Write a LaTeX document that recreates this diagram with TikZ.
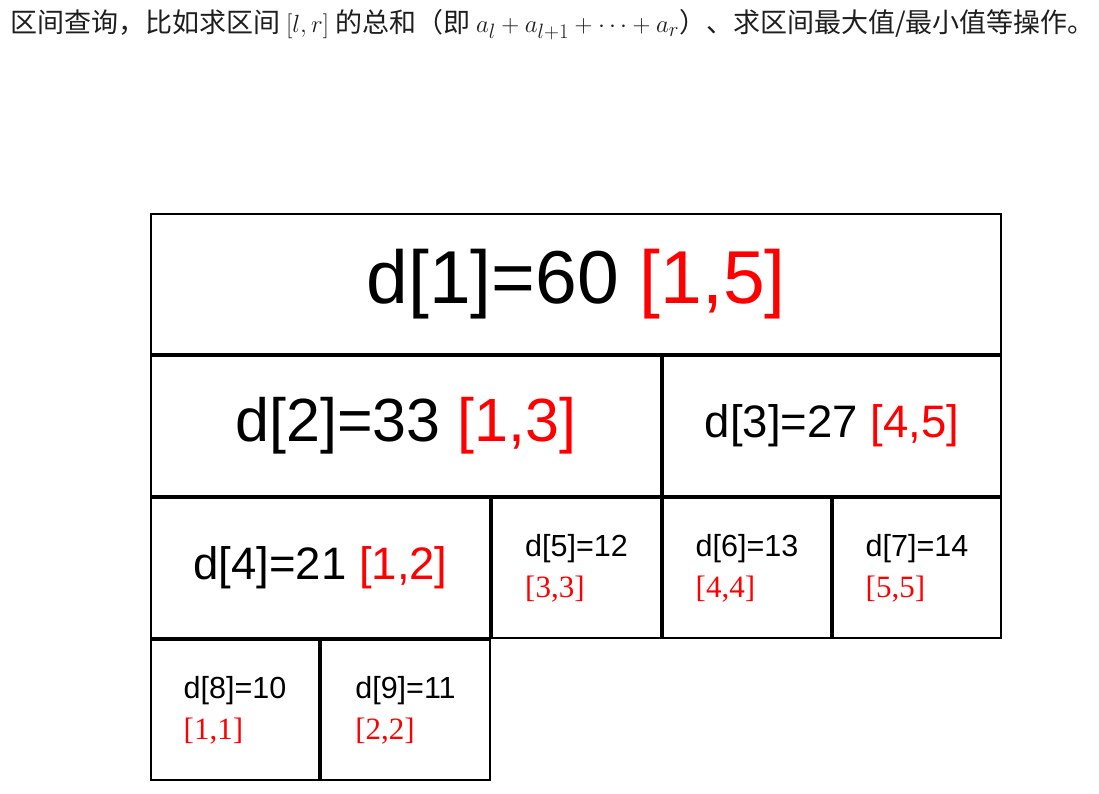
\documentclass[tikz,border=0pt]{standalone}
\usepackage{fontspec}
\setmainfont{Liberation Sans}
\newfontfamily\cjk{Noto Sans CJK SC}
\newfontfamily\redserif{Liberation Serif}
\definecolor{redlab}{RGB}{255,0,0}
\definecolor{txt}{RGB}{30,30,30}
\newcommand{\bigmath}[1]{{\fontsize{29}{30}\selectfont$#1$}}
\begin{document}
\begin{tikzpicture}[x=1pt,y=-1pt,
  box/.style={draw, line width=1.7pt, inner sep=0pt, outer sep=0pt, anchor=north west, align=center},
  smallbox/.style={box, minimum width=168pt, minimum height=140pt, align=left},
  big/.style={font=\fontsize{#1}{#1}\selectfont},
  small/.style={font=\fontsize{30.5}{42}\selectfont}]
\useasboundingbox (0,0) rectangle (1099,794);
\fill[white] (0,0) rectangle (1099,794);
\node[anchor=west, inner sep=0pt, text=txt] (title) at (10,24.5)
  {\fontsize{27}{30}\selectfont\cjk 区间查询，比如求区间 \bigmath{[l,r]} 的总和（即 \bigmath{a_l+a_{l+1}+\cdots+a_r}）、求区间最大值/最小值等操作。};
% row 1
\node[box, minimum width=850pt, minimum height=140pt, big=75] (d1) at (151,214)
  {d[1]=60 \textcolor{redlab}{[1,5]}};
% row 2
\node[box, minimum width=510pt, minimum height=140pt, big=61] (d2) at (151,356)
  {d[2]=33 \textcolor{redlab}{[1,3]}};
\node[box, minimum width=338pt, minimum height=140pt, big=45.5] (d3) at (663,356)
  {d[3]=27 \textcolor{redlab}{[4,5]}};
% row 3
\node[box, minimum width=339pt, minimum height=140pt, big=45.5] (d4) at (151,498)
  {d[4]=21 \textcolor{redlab}{[1,2]}};
\node[smallbox, minimum width=169pt, small] (d5) at (492,498)
  {d[5]=12\\[-1pt]{\redserif\fontsize{31}{42}\selectfont\textcolor{redlab}{[3,3]}}};
\node[smallbox, small] (d6) at (663,498)
  {d[6]=13\\[-1pt]{\redserif\fontsize{31}{42}\selectfont\textcolor{redlab}{[4,4]}}};
\node[smallbox, small] (d7) at (833,498)
  {d[7]=14\\[-1pt]{\redserif\fontsize{31}{42}\selectfont\textcolor{redlab}{[5,5]}}};
% row 4
\node[smallbox, small] (d8) at (151,640)
  {d[8]=10\\[-1pt]{\redserif\fontsize{31}{42}\selectfont\textcolor{redlab}{[1,1]}}};
\node[smallbox, minimum width=169pt, small] (d9) at (321,640)
  {d[9]=11\\[-1pt]{\redserif\fontsize{31}{42}\selectfont\textcolor{redlab}{[2,2]}}};
\end{tikzpicture}
\end{document}
